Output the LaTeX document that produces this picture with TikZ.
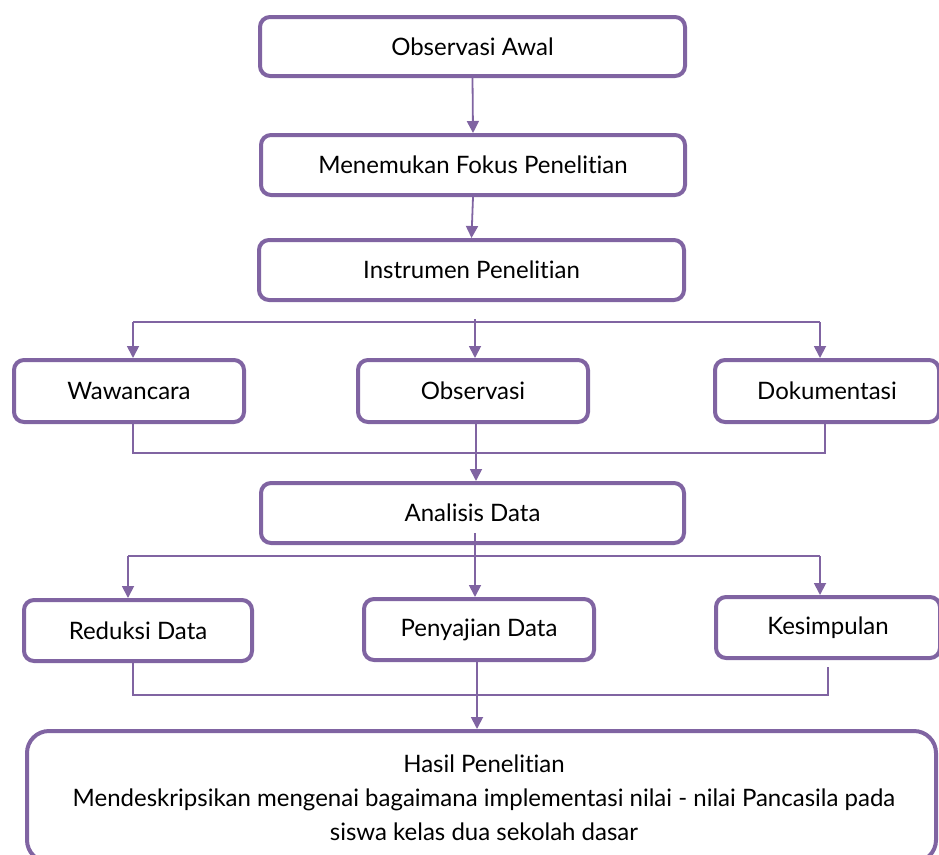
\documentclass[tikz,border=0pt]{standalone}
\usepackage{fontspec}
\setmainfont{Lato}[Ligatures=NoCommon]
\usetikzlibrary{arrows.meta}
\definecolor{pur}{HTML}{8064A2}
\begin{document}
\begin{tikzpicture}[x=1pt,y=-1pt,
  box/.style={draw=pur, line width=4pt, rounded corners=10pt, fill=white, inner sep=0pt,
    font=\fontsize{24}{28}\selectfont},
  bigbox/.style={box, rounded corners=22pt},
  txt/.style={align=center, font=\fontsize{24}{34}\selectfont},
  conn/.style={draw=pur, line width=1.8pt},
  arr/.style={conn, -{Triangle[width=12pt,length=12pt]}}]
\useasboundingbox (0,0) rectangle (939,854);
\clip (0,0) rectangle (939,854);

% top chain
\node[box, minimum width=425pt, minimum height=59pt] (oa) at (472.5,46.5) {Observasi Awal};
\node[box, minimum width=424pt, minimum height=60pt] (mf) at (473,165) {Menemukan Fokus Penelitian};
\node[box, minimum width=425pt, minimum height=60pt] (ip) at (471.5,270) {Instrumen Penelitian};

% row 1
\node[box, minimum width=230pt, minimum height=62pt] (ww) at (129,391) {Wawancara};
\node[box, minimum width=230pt, minimum height=62pt] (ob) at (473,391) {Observasi};
\node[box, minimum width=224pt, minimum height=62pt] (dk) at (827,391) {Dokumentasi};

\node[box, minimum width=423pt, minimum height=60pt] (ad) at (472.5,513) {Analisis Data};

% row 2
\node[box, minimum width=228pt, minimum height=61pt] (rd) at (138,630.5) {Reduksi Data};
\node[box, minimum width=230pt, minimum height=61pt] (pd) at (479,629.5) {Penyajian Data};
\node[box, minimum width=224pt, minimum height=61pt] (ks) at (828,627.5) {Kesimpulan};

% result
\node[bigbox, minimum width=909pt, minimum height=131pt] (hp) at (481.5,796.5) {};
\node[txt] (hpt) at (484,798) {Hasil Penelitian\\Mendeskripsikan mengenai bagaimana implementasi nilai - nilai Pancasila pada\\siswa kelas dua sekolah dasar};

% connectors top chain
\draw[arr] (oa.south) -- (mf.north);
\draw[arr] (mf.south) -- (ip.north);

% branch 1
\coordinate (b1l) at (133,322);
\coordinate (b1r) at (820,322);
\coordinate (b1c) at (475,319);
\draw[conn] (b1l) -- (b1r);
\draw[arr] (b1l) -- (b1l |- ww.north);
\draw[arr] (b1c) -- (b1c |- ob.north);
\draw[arr] (b1r) -- (b1r |- dk.north);

% collect 1
\coordinate (c1l) at (133,453);
\coordinate (c1r) at (825,453);
\draw[conn] (c1l |- ww.south) -- (c1l) -- (c1r) -- (c1r |- dk.south);
\coordinate (c1c) at (476,424);
\draw[arr] (c1c) -- (c1c |- ad.north);

% branch 2
\coordinate (b2c) at (475,533);
\coordinate (b2l) at (128,556);
\coordinate (b2r) at (820,556);
\draw[conn] (b2l) -- (b2r);
\draw[arr] (b2c) -- (b2c |- pd.north);
\draw[arr] (b2l) -- (b2l |- rd.north);
\draw[arr] (b2r) -- (b2r |- ks.north);

% collect 2
\coordinate (c2l) at (133,695);
\coordinate (c2r) at (828,695);
\coordinate (c2t) at (828,667);
\draw[conn] (c2l |- rd.south) -- (c2l) -- (c2r) -- (c2t);
\coordinate (c2c) at (477,662);
\draw[arr] (c2c) -- (c2c |- hp.north);
\end{tikzpicture}
\end{document}
